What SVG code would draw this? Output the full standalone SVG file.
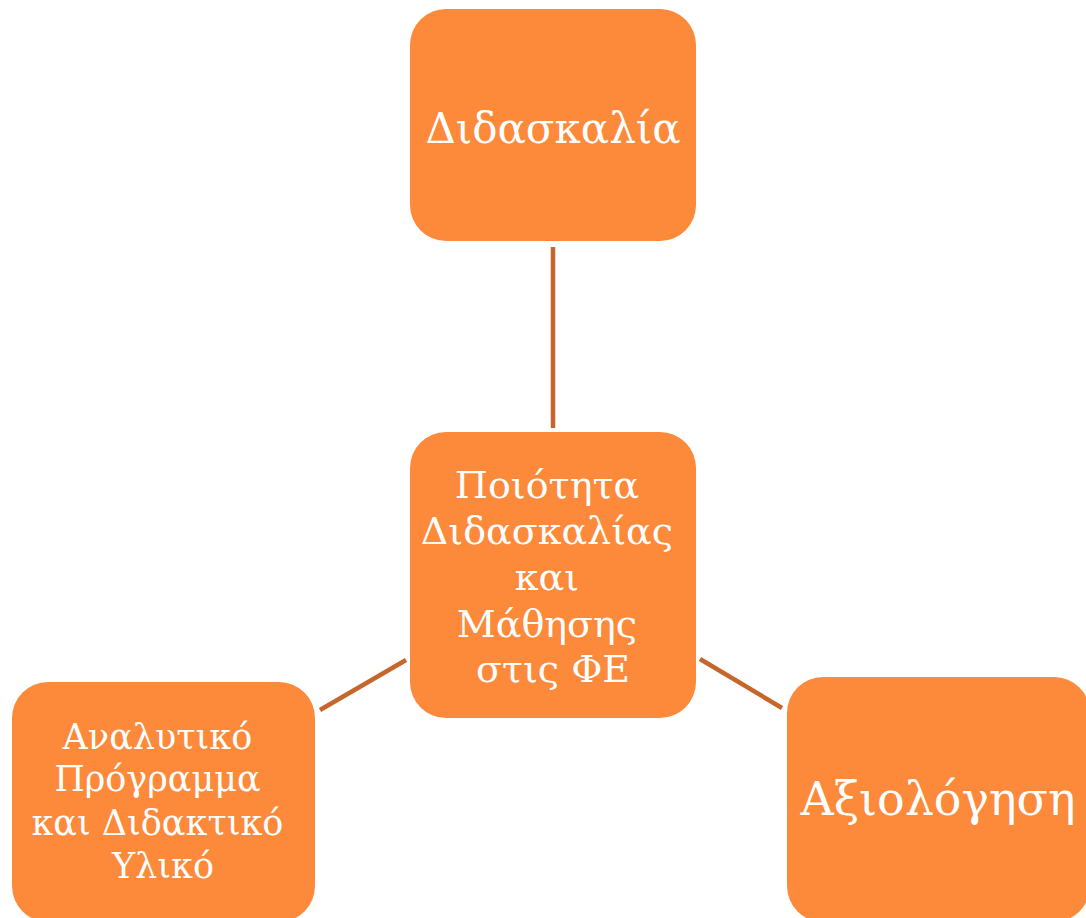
<svg xmlns="http://www.w3.org/2000/svg" width="1086" height="918" viewBox="0 0 1086 918">
<style>
.box{fill:#FD893A;}
.t{font-family:"DejaVu Serif","Liberation Serif",serif;fill:#FFFFFF;text-anchor:middle;}
.c{stroke:#C5672B;stroke-width:4.5;fill:none;}
</style>
<rect width="1086" height="918" fill="#FFFFFF"/>
<g id="connectors">
<line class="c" x1="553" y1="247" x2="553" y2="428"/>
<line class="c" x1="406" y1="660" x2="320" y2="710"/>
<line class="c" x1="700" y1="659" x2="782" y2="708"/>
</g>
<g id="node-didaskalia">
<rect class="box" x="410" y="9" width="286" height="232" rx="36"/>
<text class="t" x="553" y="143" font-size="42">Διδασκαλία</text>
</g>
<g id="node-center">
<rect class="box" x="410" y="432" width="286" height="286" rx="36"/>
<text class="t" font-size="38">
<tspan x="553" y="498">Ποιότητα</tspan>
<tspan x="553" y="544">Διδασκαλίας</tspan>
<tspan x="553" y="590">και</tspan>
<tspan x="553" y="637">Μάθησης</tspan>
<tspan x="553" y="682">στις ΦΕ</tspan>
</text>
</g>
<g id="node-analytiko">
<rect class="box" x="12" y="682" width="303" height="240" rx="36"/>
<text class="t" font-size="35">
<tspan x="163" y="749">Αναλυτικό</tspan>
<tspan x="163" y="791">Πρόγραμμα</tspan>
<tspan x="163" y="835">και Διδακτικό</tspan>
<tspan x="163" y="878">Υλικό</tspan>
</text>
</g>
<g id="node-axiologisi">
<rect class="box" x="787" y="677" width="303" height="245" rx="36"/>
<text class="t" x="938" y="815" font-size="46">Αξιολόγηση</text>
</g>
</svg>
